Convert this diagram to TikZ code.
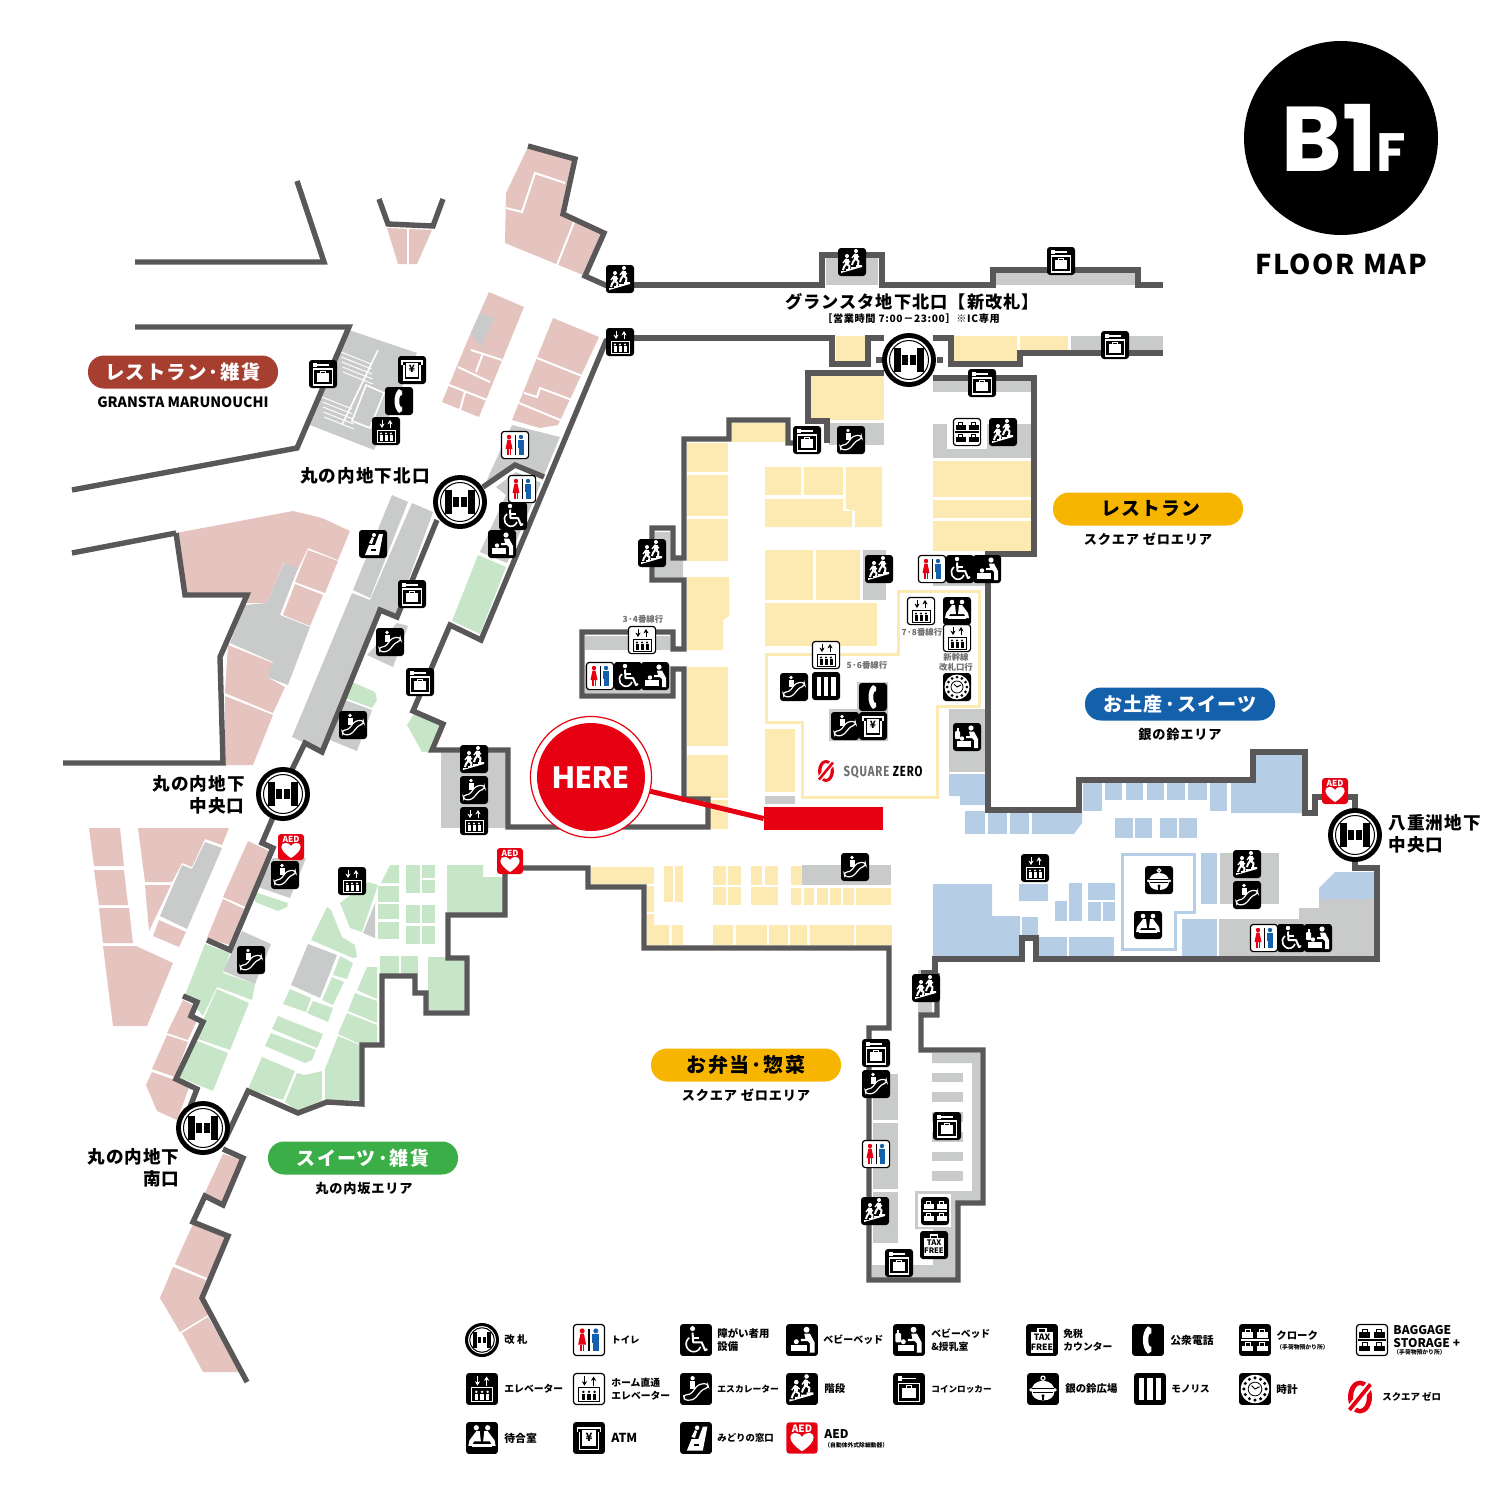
\documentclass[tikz,border=0pt]{standalone}
\usepackage{fontspec}
\usetikzlibrary{arrows.meta}
\newfontfamily\jp{Noto Sans CJK JP}
\newfontfamily\jpwide[LetterSpace=6]{Noto Sans CJK JP}
\newfontfamily\squarefont[FakeStretch=0.78,LetterSpace=6]{Fira Sans}
\newfontfamily\bigfont{Poppins}
\definecolor{wallc}{HTML}{595757}
\definecolor{grayc}{HTML}{C9CACA}
\definecolor{pinkc}{HTML}{E5C3BE}
\definecolor{yellowc}{HTML}{FDE9B2}
\definecolor{greenc}{HTML}{C7E6C8}
\definecolor{bluec}{HTML}{B5CDE5}
\definecolor{redc}{HTML}{E60012}
\definecolor{manc}{HTML}{1560AA}
\definecolor{brownpill}{HTML}{A73F30}
\definecolor{yellowpill}{HTML}{F8B500}
\definecolor{greenpill}{HTML}{3CAE47}
\definecolor{lblgray}{HTML}{6E6E6E}

% icon parts, drawn in a box of 28 units round the origin
\newcommand{\boxblack}{\fill[black,rounded corners=1.5pt] (-14,-14) rectangle (14,14);}
\newcommand{\boxwhite}{\filldraw[fill=white,draw=black,line width=.6pt,rounded corners=1.5pt] (-13.6,-13.6) rectangle (13.6,13.6);}
\newcommand{\elevglyph}[1]{
	\draw[#1,line width=.5pt,-{Stealth[length=2.2pt,width=2.6pt]}] (-4,-11)--(-4,-3);
	\draw[#1,line width=.5pt,-{Stealth[length=2.2pt,width=2.6pt]}] (4,-3)--(4,-11);
	\draw[#1,line width=.5pt] (-9,-1) rectangle (9,11);
	\foreach \px in {-5,0,5} {
		\fill[#1] (\px,2.5) circle (1.2);
		\fill[#1] (\px-1.5,4.2) rectangle (\px+1.5,9.5);
	}
}
\newcommand{\runner}[2]{
	\fill[white] (#1,#2) circle (2);
	\fill[white] (#1-2,#2+3) rectangle (#1+1.5,#2+8);
	\draw[white,line width=1pt,line join=round] (#1-.5,#2+8)--(#1+2.5,#2+10)--(#1+2,#2+14);
	\draw[white,line width=1pt,line join=round] (#1-1,#2+8)--(#1-3,#2+11)--(#1-4,#2+14);
	\draw[white,line width=.7pt,line join=round] (#1-4,#2+7)--(#1-1,#2+3)--(#1+3,#2+6);
}
\newcommand{\babyglyph}{
	\fill[white] (4,-9) circle (2.6);
	\fill[white] (2,-5.5)--(7,-5.5)--(11,2)--(11,11)--(7,11)--(7,3)--(5,1)--(-1,1)--(-1,-1)--(3,-1)--cycle;
	\fill[white] (-10,4) rectangle (4,10);
	\fill[white] (-5,1.5) circle (2.2);
}
\newcommand{\bagglyph}[1]{
	\foreach \bx/\by in {-6.5/-2,6.5/-2,-6.5/10,6.5/10} {
		\fill[#1] (\bx-5,\by-5) rectangle (\bx+5,\by);
		\draw[#1,line width=.5pt] (\bx-2.2,\by-5) -- (\bx-2.2,\by-7.5) -- (\bx+2.2,\by-7.5) -- (\bx+2.2,\by-5);
	}
}

\tikzset{
	wall/.style={draw=wallc,line width=2.7pt,line join=miter},
	tag/.style 2 args={inner sep=0pt,font=\jp\bfseries\fontsize{#1}{#2}\selectfont},
	tagwide/.style 2 args={inner sep=0pt,font=\jpwide\bfseries\fontsize{#1}{#2}\selectfont},
	pill/.style={rounded corners=8pt,minimum width=95pt,minimum height=16.5pt,inner sep=0pt,text=white,font=\jpwide\bfseries\fontsize{#1}{#1}\selectfont},
	pics/gate/.style={code={
		\fill[black] (0,0) circle (27);
		\fill[white] (0,0) circle (22);
		\draw[black,line width=.5pt] (0,0) circle (19.5);
		\fill[black] (-15,-12) rectangle (-8,12);
		\fill[black] (8,-12) rectangle (15,12);
		\fill[black] (-7,-5) rectangle (-1,5);
		\fill[black] (1,-5) rectangle (7,5);
	}},
	pics/toilet/.style={code={
		\boxwhite
		\fill[black] (-.5,-10) rectangle (.5,10);
		\fill[redc] (-6,-8) circle (2.2);
		\fill[redc] (-7.5,-5.5)--(-4.5,-5.5)--(-2.5,4)--(-9.5,4)--cycle;
		\fill[redc] (-8,4) rectangle (-6.5,10);
		\fill[redc] (-5.5,4) rectangle (-4,10);
		\fill[manc] (6,-8) circle (2.2);
		\fill[manc] (3,-5.5) rectangle (9,3);
		\fill[manc] (3.5,3) rectangle (5.7,10);
		\fill[manc] (6.3,3) rectangle (8.5,10);
	}},
	pics/wheel/.style={code={
		\boxblack
		\fill[white] (-3,-10) circle (2.2);
		\draw[white,line width=1pt,line join=round] (-3,-6.5)--(-2.5,2)--(5,2)--(8,9)--(10,8);
		\draw[white,line width=.8pt] (-3,-2)--(3,-2);
		\draw[white,line width=.8pt] (-6,-2) .. controls (-12,3) and (-7,12) .. (0,10) .. controls (2,9.5) and (3,8) .. (4,6);
	}},
	pics/babybed/.style={code={
		\boxblack
		\babyglyph
	}},
	pics/babyfeed/.style={code={
		\boxblack
		\babyglyph
		\fill[white,rounded corners=.5pt] (-12,-6) rectangle (-7,2);
		\fill[white] (-10.5,-9) rectangle (-8.5,-6);
	}},
	pics/elev/.style={code={
		\boxblack
		\elevglyph{white}
	}},
	pics/homeelev/.style={code={
		\boxwhite
		\elevglyph{black}
	}},
	pics/esc/.style={code={
		\boxblack
		\fill[white] (-3,-9.5) circle (1.9);
		\fill[white] (-5,-7) rectangle (-.5,0);
		\draw[white,line width=.6pt,rounded corners=1.5pt] (-11,5)--(-5,5)--(2,-4)--(10,-5)--(11,-1)--(6,0)--(-2,9.5)--(-10,10)--cycle;
	}},
	pics/stairs/.style={code={
		\boxblack
		\runner{-5}{-6}
		\runner{4}{-11}
		\fill[white] (-11,11)--(-11,9)--(-6,9)--(-6,7)--(-1,7)--(-1,5)--(4,5)--(4,3)--(10,3)--(10,5)--cycle;
	}},
	pics/locker/.style={code={
		\boxblack
		\fill[white] (-10,-11) rectangle (-6,-7);
		\fill[white] (-6,-10) rectangle (6,-8.5);
		\draw[white,line width=.6pt] (-9.5,-5) rectangle (9.5,11);
		\fill[white] (-6,-1) rectangle (6,7.5);
		\draw[white,line width=.4pt] (-2.5,-1) -- (-2.5,-3) -- (2.5,-3) -- (2.5,-1);
	}},
	pics/waitroom/.style={code={
		\boxblack
		\fill[white] (-5,-9) circle (2.3);
		\fill[white] (5,-9) circle (2.3);
		\fill[white] (-11,2)--(-5,-6)--(-2,-6)--(-1,3)--(-7,3)--(-9,7)--(-12,7)--cycle;
		\fill[white] (11,2)--(5,-6)--(2,-6)--(1,3)--(7,3)--(9,7)--(12,7)--cycle;
		\fill[white] (-9,5) rectangle (9,8);
	}},
	pics/atm/.style={code={
		\boxblack
		\draw[white,line width=.8pt] (-10,-5)--(-10,-9)--(10,-9)--(10,-5);
		\fill[white] (-6,-7) rectangle (6,7);
		\draw[white,line width=.6pt] (-8,-5)--(-8,10)--(8,10)--(8,-5);
		\node[black,tag={5}{5},transform shape] (yen) at (0,-1) {¥};
	}},
	pics/seat/.style={code={
		\boxblack
		\fill[white] (-8,11)--(-4,1)--(2,1)--(6,-10)--(10,-10)--(6,11)--cycle;
		\fill[black] (-2,5) rectangle (3,7);
		\fill[white] (1,-9) circle (2);
		\fill[white] (-4,-1)--(-1,-7)--(1,-6)--(-1,0)--cycle;
	}},
	pics/aed/.style={code={
		\fill[redc,rounded corners=1.5pt] (-13,-13) rectangle (13,13);
		\node[white,tag={4.2}{4.2},transform shape] (aedtxt) at (0,-8) {AED};
		\fill[white] (0,11) .. controls (-14,2) and (-10,-5) .. (-5,-4) .. controls (-3,-4) and (-1,-3) .. (0,-1) .. controls (1,-3) and (3,-4) .. (5,-4) .. controls (10,-5) and (14,2) .. (0,11) -- cycle;
	}},
	pics/taxfree/.style={code={
		\boxblack
		\draw[white,line width=.7pt] (-3.5,-7) -- (-3.5,-10) -- (3.5,-10) -- (3.5,-7);
		\fill[white] (-10,-7) rectangle (10,11);
		\node[black,tag={3.8}{4},align=center,transform shape] (taxtxt) at (0,2) {TAX\\FREE};
	}},
	pics/phone/.style={code={
		\boxblack
		\fill[white] (0,-12) .. controls (-6,-7) and (-6,7) .. (0,12) -- (3,10) -- (3,6) -- (1,5) .. controls (0,2) and (0,-2) .. (1,-5) -- (3,-6) -- (3,-10) -- cycle;
	}},
	pics/cloak/.style={code={
		\boxblack
		\fill[white] (-12,-1) rectangle (12,.6);
		\bagglyph{white}
	}},
	pics/baggage/.style={code={
		\boxwhite
		\fill[black] (-12,-1) rectangle (12,.6);
		\bagglyph{black}
	}},
	pics/bell/.style={code={
		\boxblack
		\draw[white,line width=.6pt] (0,-9.5) circle (1.8);
		\fill[white] (0,-7) .. controls (-7,-7) and (-10,-3) .. (-10,2) .. controls (-10,7) and (-6,10) .. (0,10) .. controls (6,10) and (10,7) .. (10,2) .. controls (10,-3) and (7,-7) .. (0,-7) -- cycle;
		\fill[white,rounded corners=.5pt] (-12,-.5) rectangle (12,2);
		\fill[black] (-10,-1.1) rectangle (10,-.6);
		\fill[black] (-9,2.4) rectangle (9,2.9);
		\fill[black] (0,6) circle (1.6);
		\fill[black] (-.6,6) rectangle (.6,10);
	}},
	pics/monolith/.style={code={
		\boxblack
		\foreach \bx in {-9.5,-2.3,5} {
			\fill[white] (\bx,-9.5) rectangle (\bx+4.6,9.5);
		}
	}},
	pics/clockface/.style={code={
		\boxblack
		\fill[white] (0,0) circle (12.5);
		\foreach \ca in {0,30,...,330} {
			\fill[black] (\ca:9.8) circle (1.5);
		}
		\draw[black,line width=.4pt] (0,0) circle (6);
		\draw[black,line width=.5pt] (-3,-3) -- (0,0) -- (4,-2);
	}},
	pics/zerologo/.style={code={
		\fill[redc,even odd rule] (0,0) ellipse (8 and 11) (0,0) ellipse (4.6 and 8);
		\fill[white] (-10.9,9.4)--(7.1,-13.2)--(10.9,-9.4)--(-7.1,13.2)--cycle;
		\fill[redc] (-7.9,7.6)--(6.1,-9.4)--(7.9,-7.6)--(-6.1,9.4)--cycle;
	}}
}

\begin{document}
\begin{tikzpicture}[x=0.5pt,y=-0.5pt]
	\useasboundingbox (0,0) rectangle (1500,1500);

	% pink shops, Marunouchi side
	\fill[pinkc] (387,228)--(432,230)--(417,264)--(398,264)--cycle;
	\fill[pinkc] (528,147)--(572,160)--(560,215)--(601,232)--(583,275)--(505,243)--(506,193)--cycle;
	\fill[pinkc] (489,292)--(524,307)--(479,417)--(442,402)--(469,337)--cycle;
	\fill[grayc] (480,313)--(494,318)--(481,347)--(471,333)--cycle;
	\fill[pinkc] (553,318)--(599,337)--(558,425)--(540,428)--(512,420)--cycle;
	\fill[pinkc] (176,533)--(293,511)--(322,518)--(350,531)--(338,560)--(308,548)--(295,575)--(284,562)--(267,603)--(245,603)--(247,595)--(186,595)--cycle;
	\fill[pinkc] (308,550)--(338,561)--(325,593)--(295,582)--cycle;
	\fill[pinkc] (295,584)--(323,595)--(310,626)--(283,615)--cycle;
	\fill[pinkc] (228,645)--(273,663)--(267,677)--(285,687)--(273,713)--(225,693)--cycle;
	\fill[pinkc] (225,696)--(273,715)--(253,765)--(225,765)--cycle;
	\fill[pinkc] (89,828)--(120,828)--(124,866)--(94,866)--cycle;
	\fill[pinkc] (94,870)--(124,870)--(128,905)--(99,905)--cycle;
	\fill[pinkc] (99,908)--(129,908)--(133,943)--(103,943)--cycle;
	\fill[pinkc] (103,946)--(136,946)--(173,963)--(147,1026)--(113,1026)--cycle;
	\fill[pinkc] (138,828)--(229,828)--(222,845)--(205,839)--(192,867)--(182,863)--(172,882)--(145,882)--cycle;
	\fill[pinkc] (145,885)--(171,885)--(149,931)--cycle;
	\fill[pinkc] (159,920)--(186,932)--(179,947)--(153,936)--cycle;
	\fill[pinkc] (248,841)--(269,851)--(246,907)--(223,897)--cycle;
	\fill[pinkc] (223,899)--(244,909)--(230,945)--(207,938)--cycle;
	\fill[pinkc] (183,1000)--(193,1005)--(190,1015)--(198,1018)--(188,1040)--(167,1033)--cycle;
	\fill[pinkc] (167,1035)--(188,1042)--(175,1077)--(152,1069)--cycle;
	\fill[pinkc] (152,1072)--(175,1080)--(190,1085)--(177,1120)--(157,1111)--(146,1085)--cycle;
	\fill[pinkc] (223,1154)--(242,1160)--(223,1204)--(204,1195)--cycle;
	\fill[pinkc] (193,1224)--(227,1238)--(207,1278)--(175,1264)--cycle;
	\fill[pinkc] (173,1267)--(206,1280)--(200,1299)--(208,1315)--(180,1332)--(160,1298)--cycle;
	\fill[pinkc] (182,1333)--(208,1317)--(240,1372)--(203,1372)--cycle;
	% white rules between the upper shops
	\draw[white,line width=1pt] (408,228)--(408,264);
	\draw[white,line width=1pt] (506,208)--(522,212)--(535,173)--(565,183);
	\draw[white,line width=1pt] (574,222)--(557,265);
	\draw[white,line width=1pt] (458,367)--(490,382);
	\draw[white,line width=1pt] (449,385)--(487,400);
	\draw[white,line width=1pt] (465,392)--(460,410);
	\draw[white,line width=1pt] (471,350)--(502,360);
	\draw[white,line width=1pt] (483,353)--(476,372);
	\draw[white,line width=1pt] (537,358)--(582,376);
	\draw[white,line width=1pt] (524,393)--(537,397)--(540,388)--(572,400);
	\draw[white,line width=1pt] (519,403)--(565,422);

	% gray service areas
	\fill[grayc] (349,330)--(417,353)--(374,450)--(310,425)--cycle;
	\draw[white,line width=.8pt] (378,350)--(342,425);
	\draw[white,line width=.8pt] (366,385)--(384,393)--(370,428)--(352,421)--cycle;
	\foreach \sa in {0,1,2,3,4} {
		\draw[white,line width=.5pt] (341+\sa*.5,352+\sa*5)--(371+\sa*.5,364+\sa*5);
		\draw[white,line width=.5pt] (322+\sa*.5,397+\sa*5)--(352+\sa*.5,409+\sa*5);
	}
	\fill[grayc] (512,425)--(560,437)--(544,475)--(515,462)--(486,483)--(490,473)--cycle;
	\fill[grayc] (516,472)--(541,483)--(507,563)--(480,552)--(506,495)--(496,487)--cycle;
	\fill[grayc] (392,495)--(408,502)--(370,598)--(353,590)--cycle;
	\fill[grayc] (412,503)--(433,512)--(395,617)--(380,610)--(322,752)--(303,742)--(292,737)--(352,593)--(370,600)--cycle;
	\fill[grayc] (284,563)--(298,568)--(280,615)--(310,627)--(288,685)--(267,677)--(273,662)--(230,643)--(245,605)--(267,603)--cycle;
	\fill[grayc] (397,623)--(408,626)--(393,667)--(367,655)--cycle;
	\fill[grayc] (345,700)--(372,710)--(357,751)--(330,740)--cycle;
	\fill[grayc] (441,752) rectangle (506,828);
	\fill[grayc] (273,858)--(306,858)--(290,898)--(258,887)--cycle;
	\fill[grayc] (205,842)--(222,848)--(187,929)--(160,916)--(182,865)--(192,869)--cycle;
	\fill[grayc] (242,931)--(271,944)--(255,984)--(223,971)--cycle;
	\fill[grayc] (308,944)--(337,955)--(320,998)--(291,985)--cycle;
	\fill[grayc] (375,903)--(375,938)--(363,933)--cycle;
	\fill[grayc] (826,257) rectangle (878,285);
	\fill[grayc] (996,272) rectangle (1135,285);
	\fill[grayc] (1071,336) rectangle (1163,350);
	\fill[grayc] (933,381) rectangle (1032,392);
	\fill[grayc] (933,424) rectangle (1032,458);
	\fill[white] (947,413) rectangle (987,449);
	\fill[grayc] (829,423) rectangle (884,445);
	\fill[grayc] (863,550) rectangle (886,600);
	\fill[grayc] (933,556) rectangle (986,586);
	\fill[grayc] (655,532)--(670,532)--(670,560)--(683,560)--(683,577)--(655,577)--cycle;
	\fill[grayc] (585,636) rectangle (670,650);
	\fill[grayc] (585,665) rectangle (670,693);
	\fill[grayc] (857,682)--(888,682)--(888,741)--(829,741)--(829,709)--(857,709)--cycle;
	\fill[grayc] (949,709) rectangle (986,772);
	\fill[grayc] (765,796) rectangle (795,804);
	\fill[grayc] (802,865) rectangle (891,885);
	\fill[grayc] (1220,853) rectangle (1279,904);
	\fill[grayc] (1219,919)--(1299,919)--(1299,908)--(1319,908)--(1319,899)--(1374,899)--(1374,957)--(1219,957)--cycle;
	\fill[grayc] (918,970) rectangle (932,1013);
	\fill[grayc] (932,1053)--(980,1053)--(980,1202)--(957,1202)--(957,1278)--(872,1278)--(872,1265)--(933,1265)--(933,1229)--(915,1229)--(915,1191)--(972,1191)--(972,1063)--(932,1063)--cycle;
	\fill[white] (918,1194) rectangle (951,1227);
	\foreach \ya/\yb in {1073/1082,1092/1102,1112/1122,1132/1142,1152/1161,1171/1181} {
		\fill[grayc] (932,\ya) rectangle (963,\yb);
	}
	\foreach \ya/\yb in {1074/1120,1123/1189,1192/1243} {
		\fill[grayc] (873,\ya) rectangle (898,\yb);
	}

	% yellow shops, Square Zero area
	\foreach \xa/\ya/\xb/\yb in {836/336/867/362,954/336/1017/362,1020/336/1068/350,811/376/884/420,732/423/785/442,687/443/728/472,687/475/728/516,687/519/728/561,687/667/728/746,687/755/728/798,710/800/728/829,765/467/801/495,804/467/843/495,765/550/813/600,816/550/860/600,765/603/877/646,933/461/1032/497,933/500/1032/518,933/521/1032/551,765/729/795/792,591/867/654/884,647/886/654/912,672/925/683/945,664/866/673/902,675/866/683/902,713/866/726/885,728/866/741/885,713/887/726/905,728/887/741/905,751/866/762/885,765/866/778/885,751/887/778/905,791/866/802/885,791/888/801/905,804/888/814/905,817/888/828/905,830/888/841/905,843/888/854/905,856/888/891/905,713/925/733/945,736/925/767/945,769/925/788/945,790/925/807/945,810/925/854/945,856/925/892/945} {
		\fill[yellowc] (\xa,\ya) rectangle (\xb,\yb);
	}
	\fill[yellowc] (846,467)--(882,467)--(882,527)--(855,527)--(855,511)--(846,509)--cycle;
	\fill[yellowc] (765,499)--(843,499)--(843,511)--(852,511)--(852,527)--(765,527)--cycle;
	\fill[yellowc] (687,577)--(729,577)--(729,616)--(723,620)--(723,650)--(687,650)--cycle;
	\fill[yellowc] (647,914)--(654,914)--(654,925)--(669,925)--(669,945)--(647,945)--cycle;
	\draw[yellowc,line width=1.5pt] (898,591)--(979,591)--(979,706)--(937,706)--(937,797)--(802,797)--(802,722)--(766,722)--(766,654)--(898,654)--cycle;

	% blue shops, Yaesu side
	\foreach \xa/\ya/\xb/\yb in {965/811/985/834,988/813/1007/834,1010/813/1029/834,1083/783/1102/811,1105/783/1122/800,1126/783/1143/800,1147/783/1164/800,1167/783/1185/800,1188/783/1207/800,1210/783/1227/811,1115/818/1133/838,1135/818/1152/838,1160/818/1177/838,1179/818/1197/838,1022/917/1038/936,1019/884/1048/901,1055/901/1067/921,1069/883/1082/921,1088/883/1115/900,1088/902/1101/921,1103/902/1115/921,1039/937/1067/957,1069/937/1114/957,1182/919/1217/957,1201/853/1217/904} {
		\fill[bluec] (\xa,\ya) rectangle (\xb,\yb);
	}
	\fill[bluec] (949,774)--(986,774)--(986,805)--(960,805)--(960,796)--(949,796)--cycle;
	\fill[bluec] (1032,813)--(1082,813)--(1082,823)--(1074,834)--(1032,834)--cycle;
	\fill[bluec] (1231,783)--(1256,783)--(1256,754)--(1302,754)--(1302,813)--(1231,813)--cycle;
	\fill[bluec] (933,884)--(992,884)--(992,916)--(1020,916)--(1020,957)--(933,957)--cycle;
	\fill[bluec] (1319,888)--(1335,872)--(1374,872)--(1374,899)--(1319,899)--cycle;
	\draw[bluec,line width=1.5pt] (1122,854)--(1194,854)--(1194,912)--(1175,912)--(1175,949)--(1122,949)--cycle;

	% green shops, Marunouchi slope
	\foreach \xa/\ya/\xb/\yb in {406/865/420/893,422/865/435/878,422/880/435/893,378/886/399/902,378/904/399/919,378/922/399/939,406/905/420/923,422/905/435/923,406/926/420/944,422/926/435/944,380/956/399/974,401/956/418/974,428/957/464/1010} {
		\fill[greenc] (\xa,\ya) rectangle (\xb,\yb);
	}
	\fill[greenc] (478,555)--(506,567)--(480,634)--(452,621)--cycle;
	\fill[greenc] (352,682)--(375,692)--(377,700)--(372,708)--(345,698)--cycle;
	\fill[greenc] (407,725)--(415,712)--(440,723)--(428,752)--(422,752)--cycle;
	\fill[greenc] (255,892)--(288,903)--(287,907)--(278,911)--(255,902)--cycle;
	\fill[greenc] (447,865)--(483,865)--(483,877)--(503,877)--(503,913)--(447,913)--cycle;
	\fill[greenc] (390,865)--(399,865)--(399,883)--(381,883)--cycle;
	\fill[greenc] (368,882)--(378,885)--(362,932)--(350,928)--(340,903)--cycle;
	\fill[greenc] (327,907)--(331,910)--(342,937)--(355,945)--(357,957)--(353,958)--(311,940)--cycle;
	\fill[greenc] (340,956)--(353,963)--(347,979)--(333,975)--cycle;
	\fill[greenc] (332,977)--(344,982)--(333,1005)--(322,1000)--cycle;
	\fill[greenc] (290,989)--(311,998)--(306,1012)--(283,1004)--cycle;
	\fill[greenc] (313,1001)--(333,1008)--(328,1022)--(307,1013)--cycle;
	\fill[greenc] (278,1016)--(323,1034)--(317,1048)--(272,1029)--cycle;
	\fill[greenc] (271,1033)--(316,1050)--(312,1060)--(305,1063)--(265,1046)--cycle;
	\fill[greenc] (262,1057)--(295,1071)--(283,1100)--(248,1089)--cycle;
	\fill[greenc] (297,1073)--(305,1075)--(322,1071)--(322,1100)--(298,1111)--(285,1102)--cycle;
	\fill[greenc] (325,1069)--(338,1036)--(360,1045)--(360,1100)--(325,1101)--cycle;
	\fill[greenc] (338,1034)--(347,1013)--(377,1025)--(377,1045)--(362,1045)--cycle;
	\fill[greenc] (348,1011)--(355,993)--(377,1001)--(377,1023)--cycle;
	\fill[greenc] (357,990)--(367,967)--(377,967)--(377,999)--cycle;
	\fill[greenc] (205,944)--(230,953)--(223,973)--(255,984)--(252,1000)--(217,987)--(203,1016)--(185,995)--cycle;
	\fill[greenc] (217,989)--(249,1003)--(230,1050)--(195,1038)--cycle;
	\fill[greenc] (195,1040)--(228,1053)--(213,1091)--(179,1077)--cycle;

	% walls
	\draw[wall] (297,181)--(324,262)--(135,262);
	\draw[wall] (379,199)--(388,224)--(433,226)--(443,199);
	\draw[wall] (135,327)--(349,327)--(297,448)--(72,490);
	\draw[wall] (528,146)--(575,159)--(563,214)--(604,233)--(585,276)--(612,288);
	\draw[wall] (620,285)--(822,285)--(822,255)--(882,255)--(882,285)--(993,285)--(993,270)--(1138,270)--(1138,285)--(1163,285);
	\draw[wall] (620,341)--(606,341)--(481,640)--(450,625)--(413,711)--(443,724)--(432,750)--(508,750)--(508,827)--(708,827)--(708,799)--(684,799)--(684,669)--(673,669)--(673,696)--(582,696)--(582,632)--(673,632)--(673,649)--(684,649)--(684,580)--(652,580)--(652,528)--(673,528)--(673,558)--(684,558)--(684,439)--(729,439)--(729,420)--(788,420)--(788,443)--(808,443);
	\draw[wall] (827,443)--(827,421)--(808,421)--(808,373)--(884,373);
	\draw[wall] (620,338)--(832,338)--(832,364)--(868,364)--(868,338)--(884,338);
	\draw[wall] (933,338)--(951,338)--(951,364)--(1020,364)--(1020,353)--(1163,353);
	\draw[wall] (876,360)--(884,360);
	\draw[wall] (937,360)--(943,360);
	\draw[wall] (933,378)--(1034,378)--(1034,554)--(988,554)--(988,810)--(1079,810)--(1079,780)--(1253,780)--(1253,752)--(1305,752)--(1305,813)--(1315,813)--(1315,797)--(1355,797)--(1355,815);
	\draw[wall] (1355,855)--(1355,868)--(1377,868)--(1377,959)--(1036,959)--(1036,938)--(1022,938)--(1022,959)--(935,959)--(935,973)--(921,973);
	\draw[wall] (937,973)--(937,1015)--(921,1015)--(921,1050)--(983,1050)--(983,1203)--(958,1203)--(958,1280)--(869,1280)--(869,1028)--(889,1028)--(889,948)--(644,948)--(644,887)--(588,887)--(588,868)--(505,868)--(505,915)--(448,915)--(448,958)--(467,958)--(467,1013)--(426,1013)--(426,993)--(415,993)--(415,976)--(382,976)--(382,1045)--(362,1045)--(362,1104)--(327,1102)--(298,1113)--(248,1091)--(225,1140);
	\draw[wall] (483,487)--(515,465)--(544,477);
	\draw[wall] (176,533)--(72,553);
	\draw[wall] (176,533)--(185,595)--(247,595)--(220,657)--(223,763)--(63,763);
	\draw[wall] (437,520)--(397,617)--(380,610)--(322,752)--(305,743)--(280,794);
	\draw[wall] (283,794)--(262,843)--(273,848)--(230,950)--(207,940);
	\draw[wall] (183,996)--(197,1002)--(191,1016)--(203,1022)--(176,1079)--(197,1089)--(185,1120);
	\draw[wall] (223,1149)--(243,1158)--(223,1205)--(205,1196)--(193,1222)--(228,1236)--(202,1298)--(247,1382);

	% the place you are at
	\node (spot) [fill=redc,minimum width=59.5pt,minimum height=11.5pt,inner sep=0pt] at (823.5,818.5) {};
	\node (here) [circle,draw=redc,fill=white,line width=.6pt,minimum size=60.5pt,inner sep=0pt] at (591,777) {};
	\fill[redc] (here) circle (54);
	\draw[redc,line width=2.5pt] (here) -- (spot.west);
	\node (heretxt) [text=white,font=\bigfont\bfseries\fontsize{15.5}{15.5}\selectfont,inner sep=0pt] at (591,778) {HERE};

	% gates
	\foreach \gx/\gy in {909/360,460/502,283/794,203/1128,1355/835} {
		\pic at (\gx,\gy) {gate};
	}
	% icons on the map
	\foreach \px/\py in {620/279,852/262,1003/432,879/569,652/553,474/759,1247/864,926/988,875/1211} {
		\pic at (\px,\py) {stairs};
	}
	\foreach \px/\py in {1061/261,1115/345,982/383,807/440,323/374,412/594,420/682,876/1053,947/1126,899/1263} {
		\pic at (\px,\py) {locker};
	}
	\foreach \px/\py in {851/440,794/687,845/726,390/642,353/725,474/790,285/875,251/960,855/867,1247/895,876/1084} {
		\pic at (\px,\py) {esc};
	}
	\foreach \px/\py in {620/342,386/431,474/821,352/881,1035/868} {
		\pic at (\px,\py) {elev};
	}
	\foreach \px/\py in {921/611,957/638,826/655,642/640} {
		\pic at (\px,\py) {homeelev};
	}
	\foreach \px/\py in {932/569,600/676,515/445,522/489,1264/938,876/1154} {
		\pic at (\px,\py) {toilet};
	}
	\foreach \px/\py in {960/569,628/676,513/516,1291/938} {
		\pic at (\px,\py) {wheel};
	}
	\foreach \px/\py in {987/569,655/676,502/544} {
		\pic at (\px,\py) {babybed};
	}
	\foreach \px/\py in {967/737,1318/938} {
		\pic at (\px,\py) {babyfeed};
	}
	\foreach \px/\py in {957/611,1148/925} {
		\pic at (\px,\py) {waitroom};
	}
	\foreach \px/\py in {412/370,873/726} {
		\pic at (\px,\py) {atm};
	}
	\foreach \px/\py in {399/401,873/697} {
		\pic at (\px,\py) {phone};
	}
	\foreach \px/\py in {291/847,510/861,1335/791} {
		\pic at (\px,\py) {aed};
	}
	\pic at (373,544) {seat};
	\pic at (826,686) {monolith};
	\pic at (957,687) {clockface};
	\pic at (1159,880) {bell};
	\pic at (967,432) {baggage};
	\pic at (935,1211) {cloak};
	\pic at (934,1245) {taxfree};
	\pic at (826,771) {zerologo};

	% floor badge
	\node (floordisc) [circle,fill=black,minimum size=97pt,inner sep=0pt] at (1341,138) {};
	\node (floorno) [text=white,font=\bigfont\bfseries\fontsize{46}{46}\selectfont,inner sep=0pt] at (1344,138) {B1\fontsize{27}{27}\selectfont F};
	\node (floortxt) [tagwide={13.6}{13.6}] at (1341,264) {FLOOR MAP};

	% area pills
	\node (pillgran) [pill=9.7,fill=brownpill] at (183,372) {レストラン·雑貨};
	\node (subgran) [tag={7.1}{7.1}] at (183,402) {GRANSTA MARUNOUCHI};
	\node (pillrest) [pill=9.4,fill=yellowpill,text=black] at (1148,509) {\hspace{3pt}レストラン};
	\node (subrest) [tagwide={6.6}{6.6}] at (1148,539) {スクエア ゼロエリア};
	\node (pillsouv) [pill=9.6,fill=manc] at (1180,704) {お土産·スイーツ};
	\node (subsouv) [tagwide={6.6}{6.6}] at (1180,734) {銀の鈴エリア};
	\node (pillbento) [pill=10,fill=yellowpill,text=black] at (746,1065) {お弁当·惣菜};
	\node (subbento) [tagwide={6.6}{6.6}] at (746,1095) {スクエア ゼロエリア};
	\node (pillsweet) [pill=9.5,fill=greenpill] at (363,1158) {スイーツ·雑貨};
	\node (subsweet) [tagwide={6.6}{6.6}] at (364,1188) {丸の内坂エリア};

	% gate names
	\node (namenorth) [tagwide={8.8}{8.8}] at (365,476) {丸の内地下北口};
	\node (namecenter) [tagwide={8.8}{11},align=right,anchor=east] at (245,795) {丸の内地下\\中央口};
	\node (namesouth) [tagwide={8.8}{11},align=right,anchor=east] at (180,1168) {丸の内地下\\南口};
	\node (nameyaesu) [tagwide={8.8}{11},align=left,anchor=west] at (1388,834) {八重洲地下\\中央口};
	\node (namegran) [tagwide={8.6}{8.6}] at (912,302) {グランスタ地下北口【新改札】};
	\node (namehours) [tagwide={5.1}{5.1}] at (911,319) {［営業時間 7:00－23:00］※IC専用};

	% platform signs
	\node (line34) [tag={4.2}{4.2},text=lblgray] at (643,619) {3·4番線行};
	\node (line78) [tag={4.2}{4.2},text=lblgray] at (922,632) {7·8番線行};
	\node (line56) [tag={4.2}{4.2},text=lblgray] at (867,665) {5·6番線行};
	\node (lineshin) [tag={4.2}{5},text=lblgray,align=center] at (956,662) {新幹線\\改札口行};
	\node (sqzero) [font=\squarefont\bfseries\fontsize{7.3}{7.3}\selectfont,inner sep=0pt] at (883,772) {\textcolor{lblgray}{SQUARE} ZERO};

	% legend
	\pic[scale=.63] at (482,1340) {gate};
	\pic[scale=1.14] at (589,1340) {toilet};
	\pic[scale=1.14] at (696,1340) {wheel};
	\pic[scale=1.14] at (802,1340) {babybed};
	\pic[scale=1.14] at (909,1340) {babyfeed};
	\pic[scale=1.14] at (1042,1340) {taxfree};
	\pic[scale=1.14] at (1148,1340) {phone};
	\pic[scale=1.14] at (1255,1340) {cloak};
	\pic[scale=1.14] at (1372,1340) {baggage};
	\pic[scale=1.14] at (482,1389) {elev};
	\pic[scale=1.14] at (589,1389) {homeelev};
	\pic[scale=1.14] at (696,1389) {esc};
	\pic[scale=1.14] at (802,1389) {stairs};
	\pic[scale=1.14] at (909,1389) {locker};
	\pic[scale=1.14] at (1043,1389) {bell};
	\pic[scale=1.14] at (1150,1389) {monolith};
	\pic[scale=1.14] at (1255,1389) {clockface};
	\pic[scale=1.5] at (1360,1397) {zerologo};
	\pic[scale=1.14] at (482,1438) {waitroom};
	\pic[scale=1.14] at (589,1438) {atm};
	\pic[scale=1.14] at (696,1438) {seat};
	\pic[scale=1.2] at (802,1438) {aed};

	\foreach \tx/\ty/\tn/\ts/\tt in {504/1340/a/5.2/改 札,611/1340/b/4.7/トイレ,823/1340/c/5/ベビーベッド,504/1389/d/4.9/エレベーター,717/1389/e/4.4/エスカレーター,824/1389/f/5.2/階段,931/1389/g/4.3/コインロッカー,504/1438/h/5.4/待合室,611/1438/i/6.2/ATM,717/1438/j/4.7/みどりの窓口,1170/1340/k/5.4/公衆電話,1065/1389/l/5.2/銀の鈴広場,1171/1389/m/4.8/モノリス,1276/1389/n/5.3/時計,1382/1397/o/4.7/スクエア ゼロ} {
		\node (leg\tn) [tag={\ts}{\ts},anchor=west] at (\tx,\ty) {\tt};
	}
	\node (legp) [tag={5.2}{6.2},align=left,anchor=west] at (717,1340) {障がい者用\\設備};
	\node (legq) [tag={4.9}{6.2},align=left,anchor=west] at (931,1340) {ベビーベッド\\\&授乳室};
	\node (legr) [tag={4.9}{6.2},align=left,anchor=west] at (1063,1340) {免税\\カウンター};
	\node (legs) [tag={4.9}{6.2},align=left,anchor=west] at (611,1389) {ホーム直通\\エレベーター};
	\node (legt) [tag={6}{6},anchor=west] at (824,1434) {AED};
	\node (legu) [tag={2.9}{2.9},anchor=west] at (824,1445) {（自動体外式除細動器）};
	\node (legv) [tag={5.2}{5.2},anchor=west] at (1276,1336) {クローク};
	\node (legw) [tag={2.9}{2.9},anchor=west] at (1276,1347) {（手荷物預かり所）};
	\node (legx) [tag={6}{6.5},align=left,anchor=west] at (1393,1337) {BAGGAGE\\STORAGE +};
	\node (legy) [tag={2.9}{2.9},anchor=west] at (1393,1352) {（手荷物預かり所）};
\end{tikzpicture}
\end{document}
